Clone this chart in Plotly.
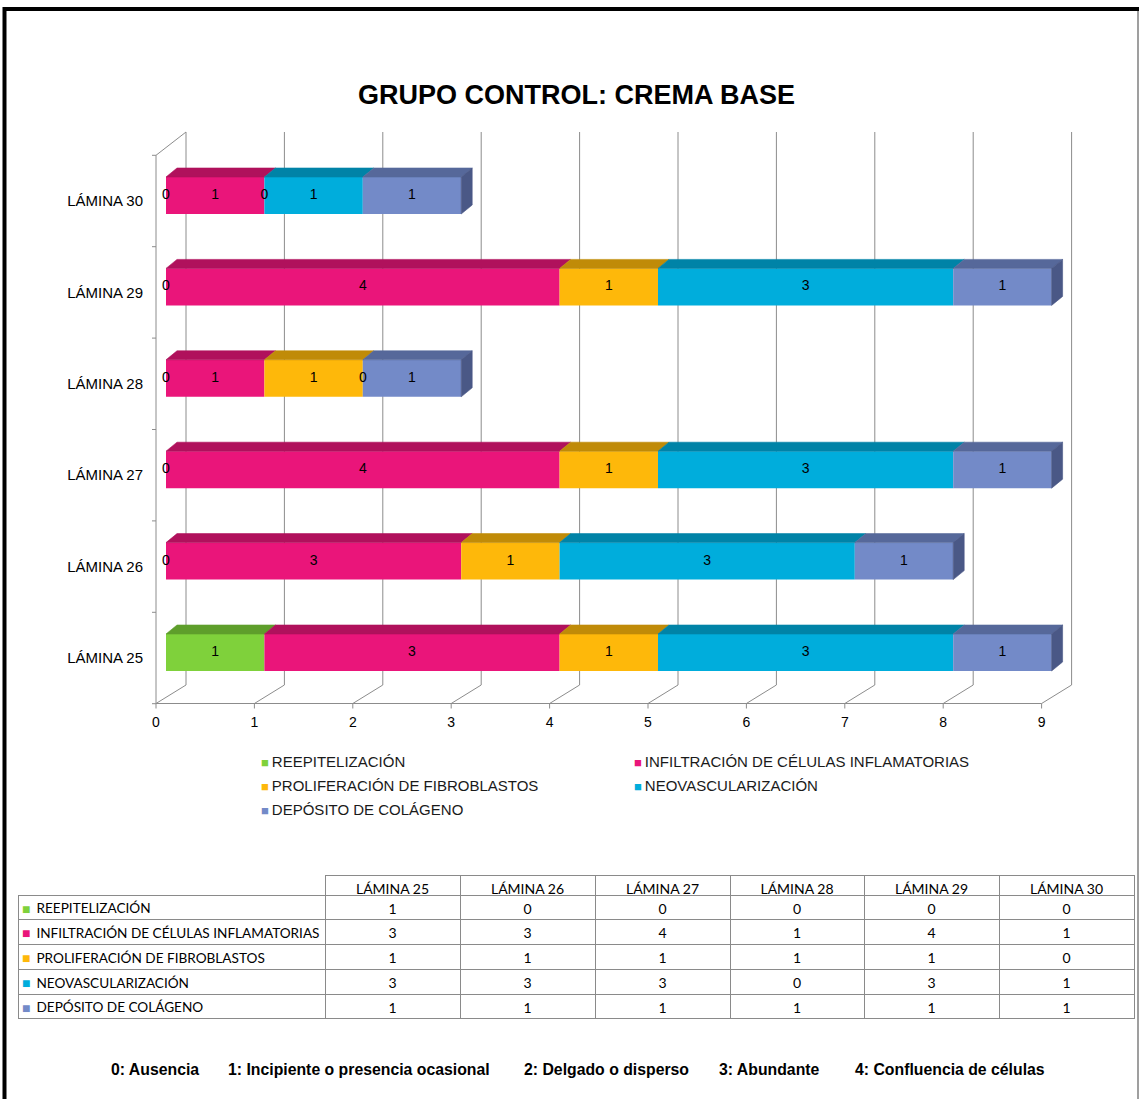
import plotly.graph_objects as go

# ---------------- data ----------------
laminas = ["LÁMINA 25", "LÁMINA 26", "LÁMINA 27", "LÁMINA 28", "LÁMINA 29", "LÁMINA 30"]
series_names = [
    "REEPITELIZACIÓN",
    "INFILTRACIÓN DE CÉLULAS INFLAMATORIAS",
    "PROLIFERACIÓN DE FIBROBLASTOS",
    "NEOVASCULARIZACIÓN",
    "DEPÓSITO DE COLÁGENO",
]
reepitelizacion = [1, 0, 0, 0, 0, 0]
infiltracion = [3, 3, 4, 1, 4, 1]
proliferacion = [1, 1, 1, 1, 1, 0]
neovascularizacion = [3, 3, 3, 0, 3, 1]
deposito_colageno = [1, 1, 1, 1, 1, 1]
x_ticks = [0, 1, 2, 3, 4, 5, 6, 7, 8, 9]
escala = [
    "0: Ausencia",
    "1: Incipiente o presencia ocasional",
    "2: Delgado o disperso",
    "3: Abundante",
    "4: Confluencia de células",
]

series = [reepitelizacion, infiltracion, proliferacion, neovascularizacion, deposito_colageno]

# ---------------- styles ----------------
front_colors = ["#7FD13B", "#EA157A", "#FEB80A", "#00ADDC", "#738AC8"]
top_colors = ["#5E9E2B", "#B0115C", "#C08B08", "#0083A7", "#56689A"]
side_colors = ["#4F8424", "#920E4C", "#A07306", "#006C8A", "#4A5886"]
frame_color = "#8C8C8C"
FONT = "Liberation Sans, Arial, sans-serif"
TABLE_FONT = "Lato, Carlito, Calibri, sans-serif"
CLEAR = "rgba(0,0,0,0)"
NBSP = "\u00a0"

W, H = 1139, 1099
# plot area in pixels
PL, PR, PT, PB = 148, 1090, 118, 712
# pixel scale of the value axis and of the category axis
PXU, PYU = 98.4, 91.4
X0PX, Y0PX = 166.0, 652.5      # value 0 / first category on the bar plane


def dx(px):
    return px / PXU


def dy(px):
    return px / PYU


BAR_H = dy(37)                 # thickness of a bar's front face
DEPTH_X, DEPTH_Y = dx(11), dy(9)   # depth of the bars
FRONT_X = -dx(10)              # front plane of the chart box, relative to bar plane
BACK_X = dx(20)                # back wall, relative to bar plane
FLOOR_FRONT = (Y0PX - 703.5) / PYU
FLOOR_BACK = (Y0PX - 685) / PYU
BACK_TOP = (Y0PX - 132) / PYU
LEFT_TOP = (Y0PX - 155.3) / PYU
CAT_SHIFT = -dy(5.5)           # category centre on the front plane

rows = list(range(len(laminas)))

fig = go.Figure()

# bases of each stacked segment
bases = []
acc = [0] * len(rows)
for s in series:
    bases.append(list(acc))
    acc = [a + v for a, v in zip(acc, s)]
totals = acc

# front faces
for i, (name, s) in enumerate(zip(series_names, series)):
    fig.add_trace(go.Bar(
        y=rows, x=s, base=bases[i], orientation="h", width=BAR_H,
        marker=dict(color=front_colors[i], line=dict(width=0)),
        name=name, showlegend=False, hoverinfo="x+name",
    ))

# top faces
for i, s in enumerate(series):
    xs, ys = [], []
    for k in rows:
        v = s[k]
        if v <= 0:
            continue
        b = bases[i][k]
        yt = k + BAR_H / 2
        xs += [b, b + v, b + v + DEPTH_X, b + DEPTH_X, b, None]
        ys += [yt, yt, yt + DEPTH_Y, yt + DEPTH_Y, yt, None]
    if xs:
        fig.add_trace(go.Scatter(
            x=xs, y=ys, mode="lines", fill="toself", fillcolor=top_colors[i],
            line=dict(width=0.6, color=top_colors[i]),
            showlegend=False, hoverinfo="skip",
        ))

# right side faces, coloured by the last non-empty segment of each row
for i in range(len(series)):
    xs, ys = [], []
    for k in rows:
        last = max(j for j in range(len(series)) if series[j][k] > 0)
        if last != i:
            continue
        e = totals[k]
        yb, yt = k - BAR_H / 2, k + BAR_H / 2
        xs += [e, e, e + DEPTH_X, e + DEPTH_X, e, None]
        ys += [yb, yt, yt + DEPTH_Y, yb + DEPTH_Y, yb, None]
    if xs:
        fig.add_trace(go.Scatter(
            x=xs, y=ys, mode="lines", fill="toself", fillcolor=side_colors[i],
            line=dict(width=0.6, color=side_colors[i]),
            showlegend=False, hoverinfo="skip",
        ))

# value labels centred on each segment (zero-width segments sit on the boundary)
lx, ly, lt = [], [], []
for i, s in enumerate(series):
    for k in rows:
        lx.append(bases[i][k] + s[k] / 2)
        ly.append(k)
        lt.append(str(s[k]))
fig.add_trace(go.Scatter(
    x=lx, y=ly, text=lt, mode="text", textposition="middle center",
    textfont=dict(family=FONT, size=14, color="#000000"),
    cliponaxis=False, showlegend=False, hoverinfo="skip",
))

# ---------------- 3D box: walls, floor and gridlines ----------------
path = []
x_front0 = x_ticks[0] + FRONT_X
x_front9 = x_ticks[-1] + FRONT_X
# front axis line and ticks
path.append(f"M{x_front0},{FLOOR_FRONT} L{x_front9},{FLOOR_FRONT}")
for v in x_ticks:
    path.append(f"M{v + FRONT_X},{FLOOR_FRONT} L{v + FRONT_X},{FLOOR_FRONT - dy(5)}")
    # floor diagonal and back-wall gridline
    path.append(f"M{v + FRONT_X},{FLOOR_FRONT} L{v + BACK_X},{FLOOR_BACK} L{v + BACK_X},{BACK_TOP}")
# left wall
path.append(f"M{x_front0},{FLOOR_FRONT} L{x_front0},{LEFT_TOP} L{x_ticks[0] + BACK_X},{BACK_TOP}")
for k in range(len(rows) + 1):
    yb = k - 0.5 + CAT_SHIFT
    path.append(f"M{x_front0 - dx(4)},{yb} L{x_front0},{yb}")

shapes = [dict(
    type="path", xref="x", yref="y", path=" ".join(path),
    line=dict(color=frame_color, width=1), layer="below",
)]

# outer frame of the figure
shapes += [
    dict(type="line", xref="paper", yref="paper", x0=3 / W, x1=1.0, y0=1 - 9 / H, y1=1 - 9 / H,
         line=dict(color="#000000", width=4)),
    dict(type="line", xref="paper", yref="paper", x0=4.5 / W, x1=4.5 / W, y0=1 - 7 / H, y1=0,
         line=dict(color="#000000", width=4)),
    dict(type="line", xref="paper", yref="paper", x0=1138 / W, x1=1138 / W, y0=1 - 11 / H, y1=0,
         line=dict(color="#7F7F7F", width=1.5)),
]

# ---------------- data table ----------------
line_gray = "#8A8A8A"
TABLE_TOP, TABLE_BOTTOM = 875, 1026
HEADER_H, ROW_H = 20, 24.8
# non-breaking spaces keep each row label on a single line
row_labels = [n.replace(" ", NBSP) for n in series_names]
value_cols = [[s[k] for s in series] for k in rows]
fig.add_trace(go.Table(
    domain=dict(x=[18 / W, 1134 / W], y=[1 - TABLE_BOTTOM / H, 1 - TABLE_TOP / H]),
    columnwidth=[307, 135, 135, 135, 134, 135, 135],
    header=dict(
        values=[""] + [n.replace(" ", NBSP) for n in laminas], height=HEADER_H, align="center",
        fill=dict(color="white"),
        line=dict(color=[CLEAR] + [line_gray] * len(laminas), width=1),
        font=dict(family=TABLE_FONT, size=14, color="#000000"),
    ),
    cells=dict(
        values=[row_labels] + value_cols, height=ROW_H,
        align=["left"] + ["center"] * len(laminas),
        prefix=[NBSP * 3] + [""] * len(laminas),
        fill=dict(color="white"),
        line=dict(color=line_gray, width=1),
        font=dict(family=TABLE_FONT, size=[13.6] + [14] * len(laminas), color="#000000"),
    ),
))
# colour keys in the first column of the table
fig.add_trace(go.Table(
    domain=dict(x=[14 / W, 36 / W], y=[1 - TABLE_BOTTOM / H, 1 - TABLE_TOP / H]),
    columnwidth=[22],
    header=dict(values=[""], height=HEADER_H, fill=dict(color=CLEAR), line=dict(color=CLEAR)),
    cells=dict(
        values=[["■"] * len(series)], height=ROW_H, align="left",
        fill=dict(color=CLEAR), line=dict(color=CLEAR),
        font=dict(family=FONT, size=14, color=[front_colors]),
    ),
))

# ---------------- legend, title, scale notes ----------------
annotations = []
legend_cols = [259, 632]
legend_rows = [761, 785, 809]
for i, (name, c) in enumerate(zip(series_names, front_colors)):
    r, col = divmod(i, 2)
    annotations.append(dict(
        xref="paper", yref="paper", x=legend_cols[col] / W, y=1 - legend_rows[r] / H,
        xanchor="left", yanchor="middle", showarrow=False,
        text=f"<span style='color:{c};font-size:13px'>■</span>\u2009{name}",
        font=dict(family=FONT, size=15, color="#1A1A1A"),
    ))

annotations.append(dict(
    xref="paper", yref="paper", x=576 / W, y=1 - 95 / H, xanchor="center", yanchor="middle",
    showarrow=False, text="<b>GRUPO CONTROL: CREMA BASE</b>",
    font=dict(family=FONT, size=27, color="#000000"),
))

for xpx, txt in zip([109, 226, 522, 717, 853], escala):
    annotations.append(dict(
        xref="paper", yref="paper", x=xpx / W, y=1 - 1069 / H, xanchor="left", yanchor="middle",
        showarrow=False, text=f"<b>{txt}</b>",
        font=dict(family=FONT, size=15.8, color="#000000"),
    ))

fig.update_layout(
    width=W, height=H, autosize=False,
    margin=dict(l=0, r=0, t=0, b=0, pad=0),
    paper_bgcolor="white", plot_bgcolor="white",
    barmode="overlay", showlegend=False,
    shapes=shapes, annotations=annotations,
    xaxis=dict(
        domain=[PL / W, PR / W],
        range=[(PL - X0PX) / PXU, (PR - X0PX) / PXU],
        tickvals=[v + FRONT_X for v in x_ticks], ticktext=[str(v) for v in x_ticks],
        ticks="", showgrid=False, zeroline=False, showline=False,
        tickfont=dict(family=FONT, size=14, color="#000000"),
        fixedrange=True,
    ),
    yaxis=dict(
        domain=[1 - PB / H, 1 - PT / H],
        range=[(Y0PX - PB) / PYU, (Y0PX - PT) / PYU],
        tickvals=[k + CAT_SHIFT for k in rows], ticktext=laminas,
        ticks="", showgrid=False, zeroline=False, showline=False,
        ticklabelstandoff=4,
        tickfont=dict(family=FONT, size=15, color="#000000"),
        fixedrange=True,
    ),
)

fig.write_html("out.html")
